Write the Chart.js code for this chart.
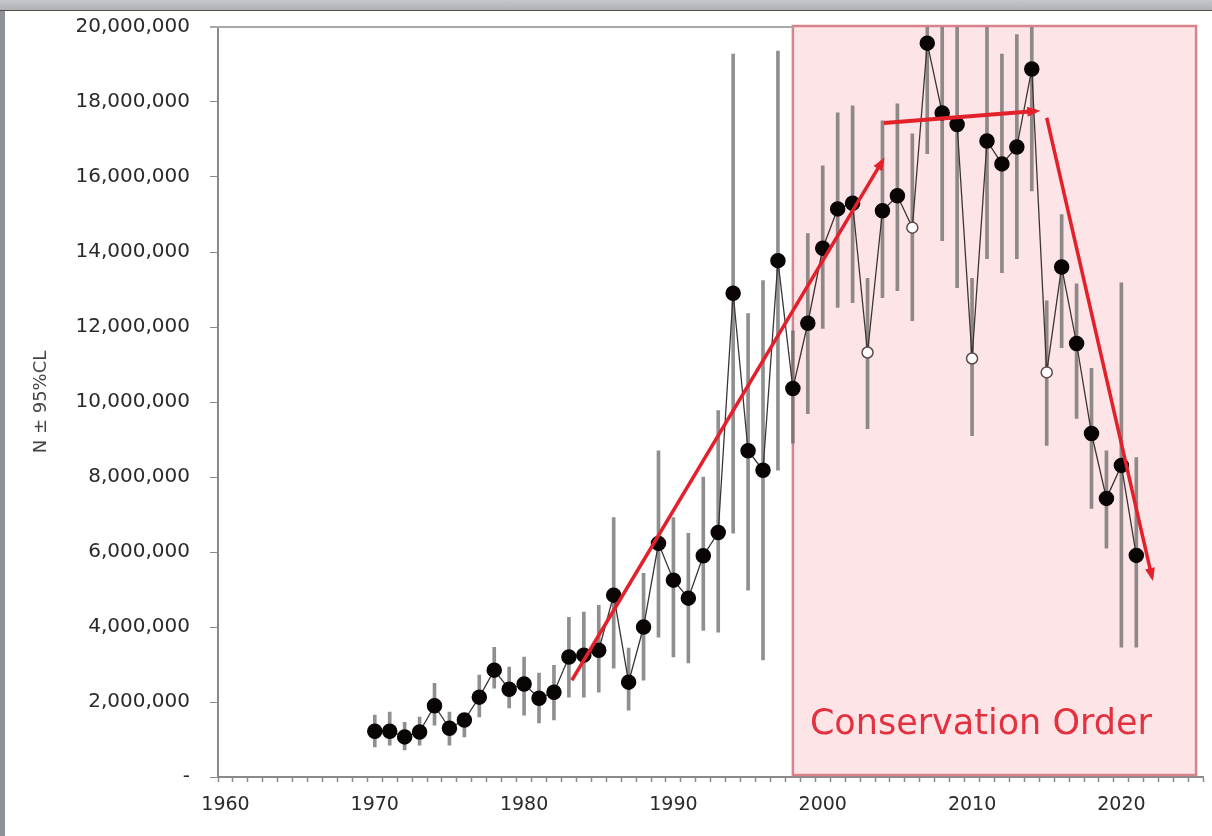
<!DOCTYPE html>
<html>
<head>
<meta charset="utf-8">
<script src="https://cdn.jsdelivr.net/npm/chart.js@4.4.1/dist/chart.umd.min.js"></script>
<style>
  html, body { margin: 0; padding: 0; }
  body { width: 1212px; height: 836px; background: #8e9296; position: relative; overflow: hidden; }
  #topbar { position: absolute; left: 0; top: 0; width: 1212px; height: 10px;
            background: linear-gradient(#c4c8cc, #aeb2b6); border-bottom: 1px solid #5a5048; }
  #panel { position: absolute; left: 5px; top: 11px; width: 1207px; height: 825px; background: #fff; }
  canvas { display: block; position: absolute; left: 0; top: -16px; }
</style>
</head>
<body>
<div id="topbar"></div>
<div id="panel"><canvas id="popChart" width="1207" height="841"></canvas></div>
<script>
// population estimate (millions) with 95% CL
const years = [1970,1971,1972,1973,1974,1975,1976,1977,1978,1979,1980,1981,1982,1983,1984,1985,1986,1987,1988,1989,
  1990,1991,1992,1993,1994,1995,1996,1997,1998,1999,2000,2001,2002,2003,2004,2005,2006,2007,2008,2009,
  2010,2011,2012,2013,2014,2015,2016,2017,2018,2019,2020,2021];
const estimate = [1.22,1.22,1.07,1.20,1.90,1.30,1.52,2.13,2.85,2.34,2.48,2.10,2.26,3.20,3.25,3.38,4.85,2.53,4.00,6.23,
  5.25,4.77,5.90,6.52,12.90,8.70,8.18,13.77,10.36,12.10,14.10,15.15,15.30,11.32,15.10,15.50,14.65,19.57,17.71,17.40,
  11.16,16.96,16.35,16.80,18.88,10.79,13.60,11.56,9.16,7.43,8.31,5.91];
const lowerCL = [0.80,0.85,0.72,0.85,1.38,0.85,1.07,1.60,2.37,1.84,1.65,1.44,1.52,2.13,2.13,2.26,2.90,1.78,2.58,3.73,
  3.20,3.04,3.91,3.86,6.50,4.98,3.12,8.18,8.90,9.69,11.96,12.52,12.65,9.29,12.78,12.97,12.17,16.62,14.30,13.05,
  9.10,13.82,13.45,13.82,15.63,8.84,11.45,9.56,7.16,6.10,3.46,3.46];
const upperCL = [1.65,1.73,1.46,1.60,2.50,1.73,1.70,2.72,3.46,2.93,3.20,2.77,2.98,4.26,4.40,4.58,6.92,3.44,5.43,8.70,
  6.92,6.50,8.00,9.77,19.28,12.36,13.24,19.36,11.90,14.49,16.30,17.71,17.90,13.30,17.50,17.95,17.15,21.0,21.0,21.0,
  13.30,21.0,19.28,19.80,21.0,12.70,15.00,13.15,10.90,8.70,13.18,8.52];
const openYears = [2003, 2006, 2010, 2015];

// trend arrows drawn on top (year, millions)
const trendUpYears = [1983.2, 2004.0];
const trendUpValues = [2.58, 16.43];
const trendFlatYears = [2004.1, 2014.3];
const trendFlatValues = [17.44, 17.76];
const trendDownYears = [2015.0, 2022.05];
const trendDownValues = [17.58, 5.33];

// Conservation Order period
const orderStart = 1998;
const orderEnd = 2025;

const xMin = 1960, xMax = 2025;
const yMax = 20;

const RED = '#e3212b';

function pts(xs, ys) { return xs.map((x, i) => ({ x: x, y: ys[i] })); }

const orderBox = {
  id: 'orderBox',
  beforeDatasetsDraw(chart) {
    const { ctx, scales: { x, y } } = chart;
    const left = x.getPixelForValue(orderStart);
    const right = x.getPixelForValue(orderEnd);
    const top = y.getPixelForValue(yMax) - 1;
    const bottom = y.getPixelForValue(0) - 2;
    ctx.save();
    ctx.fillStyle = '#fde4e7';
    ctx.fillRect(left, top, right - left, bottom - top);
    ctx.strokeStyle = '#d8838b';
    ctx.lineWidth = 2.5;
    ctx.strokeRect(left, top, right - left, bottom - top);
    ctx.fillStyle = '#e2323f';
    ctx.font = '35px "DejaVu Sans"';
    ctx.textBaseline = 'middle';
    ctx.fillText('Conservation Order', left + 17, bottom - 50);
    ctx.restore();
  },
  afterDraw(chart) {
    // thin frame line along the top of the plot
    const { ctx, chartArea } = chart;
    const boxLeft = chart.scales.x.getPixelForValue(orderStart);
    ctx.save();
    ctx.strokeStyle = '#a8a8a8';
    ctx.lineWidth = 2;
    ctx.beginPath();
    ctx.moveTo(chartArea.left - 8, chartArea.top);
    ctx.lineTo(boxLeft, chartArea.top);
    ctx.stroke();
    ctx.restore();
  }
};

const arrowHeads = {
  id: 'arrowHeads',
  afterDatasetsDraw(chart) {
    const { ctx } = chart;
    chart.data.datasets.forEach((ds, i) => {
      if (!ds.arrow) return;
      const pts = chart.getDatasetMeta(i).data;
      const a = pts[pts.length - 2], b = pts[pts.length - 1];
      const ang = Math.atan2(b.y - a.y, b.x - a.x);
      ctx.save();
      ctx.translate(b.x, b.y);
      ctx.rotate(ang);
      ctx.fillStyle = RED;
      ctx.beginPath();
      ctx.moveTo(4, 0);
      ctx.lineTo(-9, -5);
      ctx.lineTo(-9, 5);
      ctx.closePath();
      ctx.fill();
      ctx.restore();
    });
  }
};

const ctx = document.getElementById('popChart').getContext('2d');
new Chart(ctx, {
  data: {
    datasets: [
      {
        type: 'bar',
        label: '95% CL',
        data: years.map((yr, i) => ({ x: yr, y: [lowerCL[i], upperCL[i]] })),
        backgroundColor: 'rgba(105,105,105,0.75)',
        borderWidth: 0,
        barThickness: 3,
        order: 3
      },
      {
        type: 'line',
        label: 'N',
        data: pts(years, estimate),
        borderColor: '#3c3434',
        borderWidth: 1.3,
        pointRadius: ctx => openYears.includes(years[ctx.dataIndex]) ? 5.5 : 7,
        pointBackgroundColor: ctx => openYears.includes(years[ctx.dataIndex]) ? '#ffffff' : '#0a0505',
        pointBorderColor: ctx => openYears.includes(years[ctx.dataIndex]) ? '#5a4a4a' : '#0a0505',
        pointBorderWidth: 1.5,
        order: 2
      },
      {
        type: 'line', label: 'trend up', data: pts(trendUpYears, trendUpValues),
        borderColor: RED, borderWidth: 3.5, pointRadius: 0, arrow: true, order: 1
      },
      {
        type: 'line', label: 'trend flat', data: pts(trendFlatYears, trendFlatValues),
        borderColor: RED, borderWidth: 4, pointRadius: 0, arrow: true, order: 1
      },
      {
        type: 'line', label: 'trend down', data: pts(trendDownYears, trendDownValues),
        borderColor: RED, borderWidth: 3.5, pointRadius: 0, arrow: true, order: 1
      }
    ]
  },
  options: {
    responsive: false,
    animation: false,
    layout: { padding: { top: 0, right: 3, bottom: 9, left: 0 } },
    plugins: { legend: { display: false }, tooltip: { enabled: false } },
    scales: {
      x: {
        type: 'linear',
        min: xMin,
        max: xMax,
        afterFit: s => { s.height = 50; },
        border: { color: '#8a8a8a', width: 2 },
        grid: { drawOnChartArea: false, tickLength: 5, color: '#8a8a8a', tickWidth: 1.5 },
        ticks: {
          stepSize: 1,
          autoSkip: false,
          maxRotation: 0,
          padding: 12,
          color: '#2a2a2a',
          font: { family: 'DejaVu Sans', size: 19 },
          callback: v => (v % 10 === 0 ? String(v) : '')
        }
      },
      y: {
        min: 0,
        max: yMax,
        afterFit: s => { s.width = 213; },
        border: { color: '#8a8a8a', width: 2 },
        grid: { drawOnChartArea: false, tickLength: 8, color: '#8a8a8a' },
        ticks: {
          stepSize: 2,
          padding: 20,
          color: '#2a2a2a',
          font: { family: 'DejaVu Sans', size: 20 },
          callback: v => (v === 0 ? '-' : (v * 1e6).toLocaleString('en-US'))
        },
        title: {
          display: true,
          text: 'N \u00b1 95%CL',
          color: '#444',
          padding: { top: 26, bottom: 0 },
          font: { family: 'DejaVu Sans', size: 18 }
        }
      }
    }
  },
  plugins: [orderBox, arrowHeads]
});
</script>
</body>
</html>
